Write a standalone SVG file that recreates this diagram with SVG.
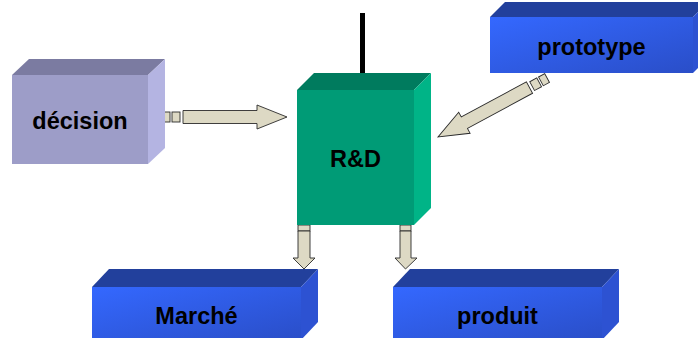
<svg xmlns="http://www.w3.org/2000/svg" width="698" height="338" viewBox="0 0 698 338">
<defs>
<style>
.lbl{font-family:"Liberation Sans",Arial,sans-serif;font-weight:bold;font-size:23.5px;fill:#000;text-anchor:middle}
.arr{fill:#DDD9C4;stroke:#2a2a2a;stroke-width:0.9;stroke-linejoin:miter}
.bfront{fill:url(#blueFront)}
.btop{fill:#22409C}
.bright{fill:#2D52D2}
</style>
<linearGradient id="blueFront" x1="0" y1="0" x2="1" y2="1">
<stop offset="0" stop-color="#3468FF"/>
<stop offset="1" stop-color="#2A4EC8"/>
</linearGradient>
<g id="bigArrow">
<rect class="arr" x="-124" y="-5" width="7" height="10"/>
<rect class="arr" x="-115" y="-5" width="8" height="10"/>
<polygon class="arr" points="-104,-6.5 -30,-6.5 -30,-12 0,0 -30,12 -30,6.5 -104,6.5"/>
</g>
</defs>
<rect width="698" height="338" fill="#fff"/>

<g id="connectors">
<rect x="360" y="13" width="5" height="60" fill="#000"/>
<use href="#bigArrow" transform="translate(287,117)"/>
<use href="#bigArrow" transform="translate(438,137) rotate(151.6)"/>
<rect class="arr" x="298" y="225" width="12" height="6"/>
<polygon class="arr" points="298,231 310,231 310,258 315,258 304,269 293,258 298,258"/>
<rect class="arr" x="400" y="225" width="11" height="6"/>
<polygon class="arr" points="400,231 411,231 411,258 417,258 405.5,269 395,258 400,258"/>
</g>

<g id="decision">
<polygon points="12,75 29,59 165,59 148,75" fill="#7B7BA1"/>
<polygon points="148,75 165,59 165,148 148,164" fill="#B4B4E2"/>
<rect x="12" y="75" width="136" height="89" fill="#9D9DC8"/>
<text class="lbl" x="80" y="129">décision</text>
</g>

<g id="rd">
<polygon points="297,90 314,73 431,73 414,90" fill="#007B5E"/>
<polygon points="414,90 431,73 431,208 414,225" fill="#00B487"/>
<rect x="297" y="90" width="117" height="135" fill="#009B76"/>
<text class="lbl" x="355.5" y="167">R&amp;D</text>
</g>

<g id="prototype">
<polygon class="btop" points="490,17 505,2 708,2 693,17"/>
<polygon class="bright" points="693,17 708,2 708,58 693,73"/>
<rect class="bfront" x="490" y="17" width="203" height="56"/>
<text class="lbl" x="591.5" y="55">prototype</text>
</g>

<g id="marche">
<polygon class="btop" points="92,287 109,269 318,269 301,287"/>
<polygon class="bright" points="301,287 318,269 318,322 301,340"/>
<rect class="bfront" x="92" y="287" width="209" height="53"/>
<text class="lbl" x="196.5" y="324">Marché</text>
</g>

<g id="produit">
<polygon class="btop" points="393,287 410,269 619,269 602,287"/>
<polygon class="bright" points="602,287 619,269 619,322 602,340"/>
<rect class="bfront" x="393" y="287" width="209" height="53"/>
<text class="lbl" x="497.5" y="324">produit</text>
</g>
</svg>
